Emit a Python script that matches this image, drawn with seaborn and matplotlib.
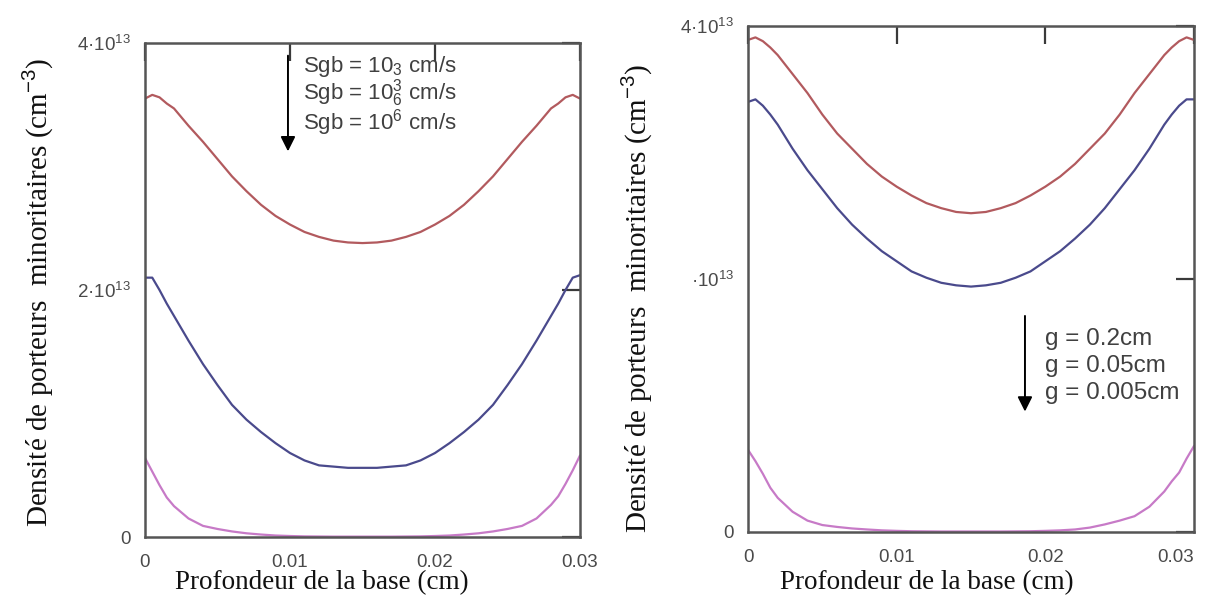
import numpy as np
import pandas as pd
import matplotlib
matplotlib.use("Agg")
import matplotlib.pyplot as plt
import seaborn as sns

# ---------------- data (values in units of 1e13 cm^-3) ----------------
x_cm = [0.0, 0.0005, 0.001, 0.0015, 0.002, 0.003, 0.004, 0.005, 0.006, 0.007,
        0.008, 0.009, 0.010, 0.011, 0.012, 0.013, 0.014, 0.015,
        0.016, 0.017, 0.018, 0.019, 0.020, 0.021, 0.022, 0.023, 0.024,
        0.025, 0.026, 0.027, 0.028, 0.0285, 0.029, 0.0295, 0.030]

# Left panel: Sgb = 10^3, 10^5(?), 10^6 cm/s
left_red = [3.55, 3.58, 3.56, 3.51, 3.47, 3.33, 3.20, 3.06, 2.92, 2.80,
            2.69, 2.60, 2.53, 2.47, 2.43, 2.40, 2.385, 2.38,
            2.385, 2.40, 2.43, 2.47, 2.53, 2.60, 2.69, 2.80, 2.92,
            3.06, 3.20, 3.33, 3.47, 3.51, 3.56, 3.58, 3.55]
left_blue = [2.10, 2.10, 2.00, 1.89, 1.79, 1.59, 1.40, 1.23, 1.07, 0.95,
             0.85, 0.76, 0.68, 0.62, 0.58, 0.57, 0.56, 0.56,
             0.56, 0.57, 0.58, 0.62, 0.68, 0.76, 0.85, 0.95, 1.07,
             1.23, 1.40, 1.59, 1.79, 1.89, 2.00, 2.10, 2.12]
left_mag = [0.64, 0.53, 0.42, 0.32, 0.25, 0.15, 0.09, 0.065, 0.045, 0.03,
            0.02, 0.012, 0.008, 0.005, 0.004, 0.003, 0.003, 0.003,
            0.003, 0.003, 0.004, 0.005, 0.008, 0.012, 0.02, 0.03, 0.045,
            0.065, 0.09, 0.15, 0.26, 0.33, 0.43, 0.54, 0.66]

# Right panel: g = 0.2, 0.05, 0.005 cm
right_red = [3.89, 3.91, 3.88, 3.83, 3.77, 3.62, 3.47, 3.30, 3.15, 3.03,
             2.91, 2.81, 2.73, 2.66, 2.60, 2.56, 2.53, 2.52,
             2.53, 2.56, 2.60, 2.66, 2.73, 2.81, 2.91, 3.03, 3.15,
             3.30, 3.47, 3.62, 3.77, 3.83, 3.88, 3.91, 3.89]
right_blue = [3.40, 3.42, 3.37, 3.30, 3.22, 3.03, 2.86, 2.71, 2.56, 2.43,
              2.32, 2.22, 2.14, 2.06, 2.01, 1.97, 1.95, 1.94,
              1.95, 1.97, 2.01, 2.06, 2.14, 2.22, 2.32, 2.43, 2.56,
              2.71, 2.86, 3.03, 3.22, 3.30, 3.37, 3.42, 3.42]
right_mag = [0.65, 0.56, 0.46, 0.35, 0.27, 0.16, 0.09, 0.055, 0.04, 0.028,
             0.02, 0.013, 0.009, 0.006, 0.005, 0.004, 0.004, 0.004,
             0.004, 0.004, 0.005, 0.006, 0.009, 0.013, 0.02, 0.035, 0.06,
             0.09, 0.125, 0.20, 0.32, 0.40, 0.47, 0.58, 0.68]

left_legend = ["Sgb = 10$_3$ cm/s", "Sgb = 10$^3_6$ cm/s", "Sgb = 10$^6$ cm/s"]
right_legend = ["g = 0.2cm", "g = 0.05cm", "g = 0.005cm"]

x_ticks = [0, 0.01, 0.02, 0.03]
x_ticklabels = ["0", "0.01", "0.02", "0.03"]
y_ticks = [0, 2, 4]
left_yticklabels = ["0", "2·10$^{13}$", "4·10$^{13}$"]
right_yticklabels = ["0", "·10$^{13}$", "4·10$^{13}$"]

xlabel = "Profondeur de la base (cm)"
ylabel = "Densité de porteurs  minoritaires (cm$^{-3}$)"

colors = ["#b25a5e", "#4a4a8c", "#c77ac7"]

# ---------------- style ----------------
sns.set_theme(style="white")
plt.rcParams["font.family"] = ["Liberation Sans", "DejaVu Sans"]
plt.rcParams["mathtext.fontset"] = "custom"
plt.rcParams["mathtext.rm"] = "Liberation Sans"
plt.rcParams["mathtext.it"] = "Liberation Sans"
plt.rcParams["lines.solid_joinstyle"] = "round"

fig = plt.figure(figsize=(12.09, 6.05), dpi=100)
ax1 = fig.add_axes([145 / 1209, 1 - 537 / 605, 435 / 1209, 494 / 605])
ax2 = fig.add_axes([748 / 1209, 1 - 532 / 605, 446 / 1209, 506 / 605])


def make_df(series, names):
    frames = []
    for vals, nm in zip(series, names):
        frames.append(pd.DataFrame({"x": x_cm, "y": vals, "serie": nm}))
    return pd.concat(frames, ignore_index=True)


df1 = make_df([left_red, left_blue, left_mag], left_legend)
df2 = make_df([right_red, right_blue, right_mag], right_legend)

for ax, df, names, ylabs in [(ax1, df1, left_legend, left_yticklabels),
                              (ax2, df2, right_legend, right_yticklabels)]:
    sns.lineplot(data=df, x="x", y="y", hue="serie", hue_order=names,
                 palette=colors, linewidth=1.6, legend=False, ax=ax,
                 sort=False, estimator=None)
    ax.set_xlim(0, 0.03)
    ax.set_ylim(0, 4)
    ax.set_xticks(x_ticks)
    ax.set_xticklabels(x_ticklabels)
    ax.set_yticks(y_ticks)
    ax.set_yticklabels(ylabs)
    ax.tick_params(axis="both", which="both", direction="in", length=13,
                   width=1.6, color="#3a3a3a", top=True, right=True,
                   labelsize=13.5, labelcolor="#4a4a4a")
    ax.tick_params(axis="x", pad=12)
    ax.tick_params(axis="y", pad=10)
    for sp in ax.spines.values():
        sp.set_color("#555555")
        sp.set_linewidth(1.8)
    ax.set_xlabel(xlabel, family=["Liberation Serif"], fontsize=19.5,
                  color="#111111")
    ax.set_ylabel(ylabel, family=["Liberation Serif"], fontsize=21,
                  color="#111111")

# label placement (in axes fractions)
ax1.xaxis.set_label_coords((322 - 145) / 435, -(583 - 537) / 494)
ax1.yaxis.set_label_coords(-(145 - 38) / 435, (537 - 292) / 494)
ax2.xaxis.set_label_coords((927 - 748) / 446, -(583 - 532) / 506)
ax2.yaxis.set_label_coords(-(748 - 637) / 446, (532 - 298) / 506)
for a in (ax1, ax2):
    a.xaxis.label.set_va("center")
    a.yaxis.label.set_va("center")

# right panel last x tick label shifted left as in the original
ax2.get_xticklabels()[-1].set_ha("right")

# annotations left (one text block, tight line spacing as in the original)
ax1.annotate("", xy=(0.00986, 3.10), xytext=(0.00986, 3.92),
             arrowprops=dict(arrowstyle="-|>", color="black", lw=1.4,
                             mutation_scale=22))
ax1.text(0.0109, 3.57, "\n".join(left_legend), fontsize=16, color="#404040",
         va="center", ha="left", linespacing=0.92)

# annotations right
ax2.annotate("", xy=(0.01863, 0.93), xytext=(0.01863, 1.73),
             arrowprops=dict(arrowstyle="-|>", color="black", lw=1.4,
                             mutation_scale=22))
ax2.text(0.0200, 1.31, "\n".join(right_legend), fontsize=17.5,
         color="#404040", va="center", ha="left", linespacing=1.3)

fig.savefig("out.png", dpi=100, facecolor="white")
